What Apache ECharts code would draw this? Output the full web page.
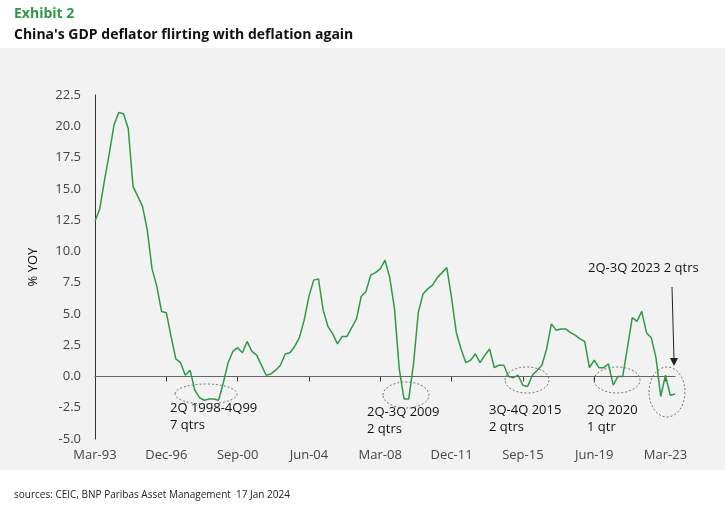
<!DOCTYPE html>
<html>
<head>
<meta charset="utf-8">
<script src="https://cdn.jsdelivr.net/npm/echarts@6/dist/echarts.min.js"></script>
<style>
  html, body { margin: 0; padding: 0; background: #fff; }
  #chart { width: 725px; height: 513px; }
</style>
</head>
<body>
<div id="chart"></div>
<script>
// quarterly GDP deflator, % YoY, 1Q93 .. 3Q23
var deflator = [
  12.4, 13.4, 15.7, 17.8, 20.1, 21.1, 21.0, 19.8, 15.2, 14.4,
  13.6, 11.7, 8.6, 7.2, 5.2, 5.1, 3.2, 1.4, 1.1, 0.1,
  0.5, -1.1, -1.7, -1.9, -1.8, -1.8, -1.9, -0.5, 1.1, 2.0,
  2.3, 1.9, 2.8, 2.0, 1.7, 0.9, 0.1, 0.2, 0.5, 0.9,
  1.8, 1.9, 2.4, 3.1, 4.5, 6.4, 7.7, 7.8, 5.3, 4.0,
  3.4, 2.6, 3.2, 3.2, 3.9, 4.6, 6.4, 6.8, 8.1, 8.3,
  8.6, 9.3, 7.9, 5.4, 0.6, -1.8, -1.8, 1.0, 5.1, 6.6,
  7.0, 7.3, 7.9, 8.3, 8.7, 6.3, 3.5, 2.2, 1.1, 1.3,
  1.8, 1.1, 1.7, 2.2, 0.7, 0.9, 0.9, 0.0, -0.1, 0.1,
  -0.7, -0.8, 0.1, 0.5, 0.9, 2.2, 4.2, 3.7, 3.8, 3.8,
  3.5, 3.3, 3.0, 2.8, 0.7, 1.3, 0.7, 0.7, 1.0, -0.7,
  0.0, 0.0, 2.3, 4.7, 4.4, 5.2, 3.5, 3.1, 1.5, -1.6,
  0.1, -1.5, -1.4
];
var months = ['Mar', 'Jun', 'Sep', 'Dec'];
var quarters = deflator.map(function (v, i) {
  var year = 1993 + Math.floor(i / 4);
  return months[i % 4] + '-' + String(year).slice(2);
});

var notes = [
  { text: '2Q 1998-4Q99\n7 qtrs', x: 170, y: 400 },
  { text: '2Q-3Q 2009\n2 qtrs', x: 367, y: 404 },
  { text: '3Q-4Q 2015\n2 qtrs', x: 489, y: 402 },
  { text: '2Q 2020\n1 qtr', x: 587, y: 402 },
  { text: '2Q-3Q 2023 2 qtrs', x: 588, y: 260 }
];
var rings = [
  { cx: 206, cy: 394, rx: 31, ry: 10 },
  { cx: 406, cy: 395, rx: 23, ry: 13 },
  { cx: 527, cy: 380, rx: 22, ry: 13 },
  { cx: 617, cy: 380, rx: 23, ry: 13 },
  { cx: 667, cy: 392, rx: 18, ry: 25 }
];

var graphics = [
  { type: 'rect', shape: { x: 0, y: 48, width: 725, height: 422 }, style: { fill: '#f2f2f2' }, z: -10 },
  { type: 'text', left: 14, top: 7, style: { text: 'Exhibit 2', fill: '#2e9a47', font: 'bold 14px "Open Sans"' } },
  { type: 'text', left: 14, top: 28, style: { text: "China's GDP deflator flirting with deflation again", fill: '#111', font: 'bold 14px "Open Sans"' } },
  { type: 'text', left: 14, top: 490, style: { text: 'sources: CEIC, BNP Paribas Asset Management  17 Jan 2024', fill: '#222', font: '10px "Open Sans"' } },
  { type: 'line', shape: { x1: 672, y1: 287, x2: 674, y2: 360 }, style: { stroke: '#222', lineWidth: 1 } },
  { type: 'polygon', shape: { points: [[670, 358], [678, 358], [674, 366]] }, style: { fill: '#222' } }
];
notes.forEach(function (n) {
  graphics.push({ type: 'text', x: n.x, y: n.y, style: { text: n.text, fill: '#111', font: '13px "Open Sans"', lineHeight: 17 } });
});
rings.forEach(function (r) {
  graphics.push({ type: 'ellipse', shape: r, style: { fill: 'none', stroke: '#555', lineWidth: 0.8, lineDash: [2, 2] } });
});

var myChart = echarts.init(document.getElementById('chart'));
myChart.setOption({
  animation: false,
  backgroundColor: '#fff',
  graphic: graphics,
  grid: { left: 95, right: 50, top: 95, bottom: 74 },
  xAxis: {
    type: 'category',
    data: quarters,
    boundaryGap: false,
    axisLine: { lineStyle: { color: '#333' } },
    axisTick: { interval: 14, length: 5, lineStyle: { color: '#333' } },
    axisLabel: { interval: 14, color: '#444', fontSize: 13, fontFamily: 'Open Sans', margin: 10 }
  },
  yAxis: {
    type: 'value',
    min: -5, max: 22.5, interval: 2.5,
    name: '% YOY', nameLocation: 'middle', nameGap: 55, nameRotate: 90,
    nameTextStyle: { color: '#111', fontSize: 13, fontFamily: 'Open Sans' },
    axisLine: { show: true, lineStyle: { color: '#333' } },
    axisTick: { show: false },
    splitLine: { show: false },
    axisLabel: {
      color: '#444', fontSize: 13, fontFamily: 'Open Sans', margin: 14,
      formatter: function (v) { return v.toFixed(1); }
    }
  },
  series: [{
    type: 'line',
    data: deflator,
    symbol: 'none',
    lineStyle: { color: '#2e9a47', width: 1.5 },
    markLine: {
      silent: true, symbol: 'none', label: { show: false },
      lineStyle: { color: '#666', type: 'solid', width: 1 },
      data: [{ yAxis: 0 }]
    }
  }]
});
</script>
</body>
</html>
